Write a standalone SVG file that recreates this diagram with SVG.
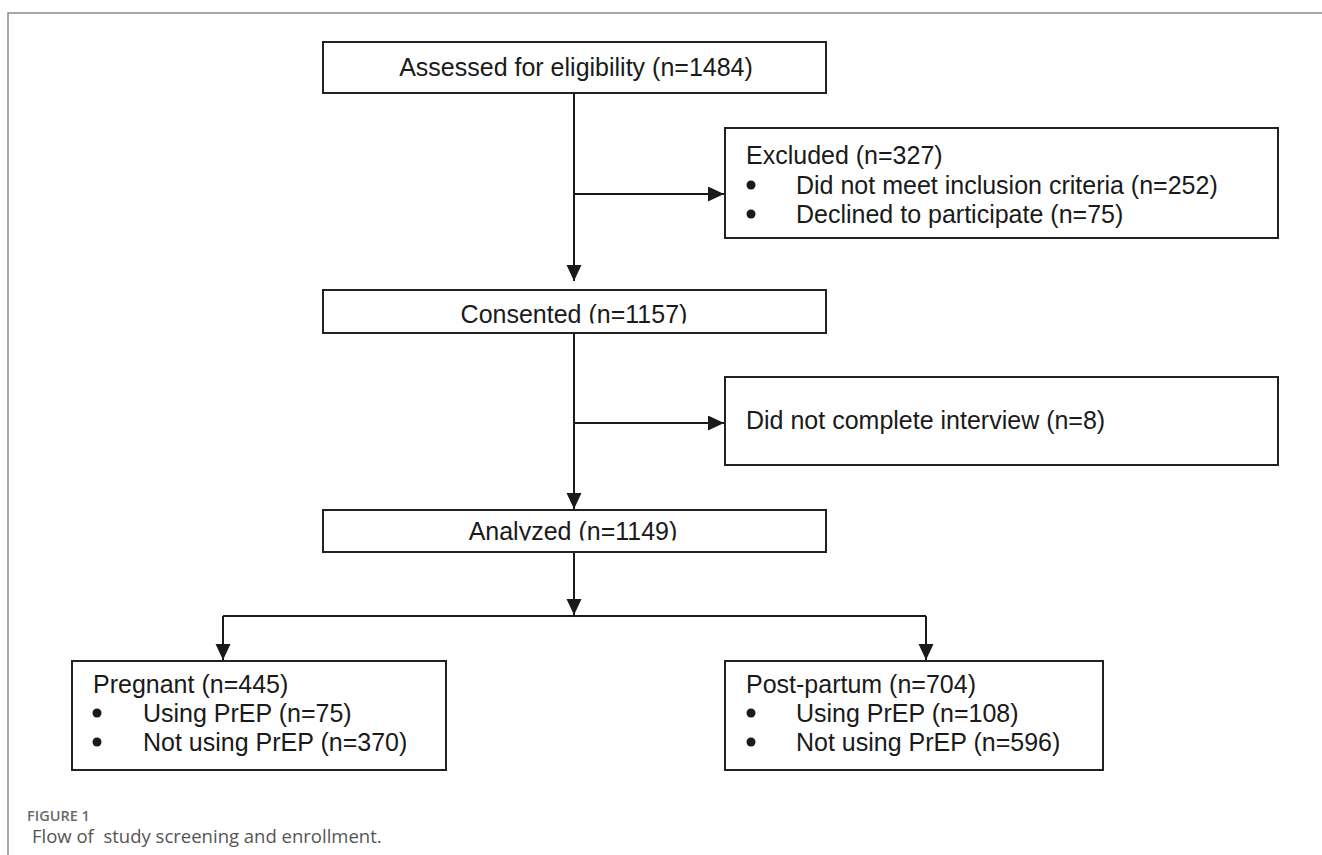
<svg xmlns="http://www.w3.org/2000/svg" width="1322" height="855" viewBox="0 0 1322 855">
  <defs>
    <style>
      .box { fill: #ffffff; stroke: #222222; stroke-width: 2; }
      .t { font-family: "Liberation Sans", Arial, sans-serif; font-size: 25px; fill: #1a1a1a; }
      .c { text-anchor: middle; }
      .bul { fill: #1a1a1a; }
      .con { fill: none; stroke: #1a1a1a; stroke-width: 2; }
      .frame { fill: none; stroke: #8a8a8a; stroke-width: 1.5; }
      .caph { font-family: "Open Sans", "Liberation Sans", sans-serif; font-size: 14.5px; font-weight: 600; fill: #6b6b6b; }
      .cap { font-family: "Open Sans", "Liberation Sans", sans-serif; font-size: 18.5px; fill: #555555; }
    </style>
    <marker id="arr" markerUnits="userSpaceOnUse" markerWidth="16" markerHeight="16" refX="16" refY="7.5" orient="auto">
      <path d="M0,0 L16,7.5 L0,15 Z" fill="#1a1a1a"/>
    </marker>
    <clipPath id="clipCons"><rect x="323" y="290" width="503" height="33.5"/></clipPath>
    <clipPath id="clipAna"><rect x="323" y="510" width="503" height="30.5"/></clipPath>
  </defs>

  <g id="frame">
    <path class="frame" d="M8,855 V13 H1322"/>
  </g>

  <g id="connectors">
    <path class="con" d="M574,93 V281" marker-end="url(#arr)"/>
    <path class="con" d="M574,194 H724" marker-end="url(#arr)"/>
    <path class="con" d="M574,333 V509" marker-end="url(#arr)"/>
    <path class="con" d="M574,423 H724" marker-end="url(#arr)"/>
    <path class="con" d="M574,552 V615" marker-end="url(#arr)"/>
    <path class="con" d="M223,616 H926"/>
    <path class="con" d="M223,616 V660" marker-end="url(#arr)"/>
    <path class="con" d="M926,616 V660" marker-end="url(#arr)"/>
  </g>

  <g id="assessed">
    <rect class="box" x="323" y="42" width="503" height="51"/>
    <text class="t c" x="576" y="76">Assessed for eligibility (n=1484)</text>
  </g>

  <g id="excluded">
    <rect class="box" x="725" y="128" width="553" height="110"/>
    <text class="t" x="746" y="164">Excluded (n=327)</text>
    <circle class="bul" cx="751" cy="185" r="4.5"/>
    <text class="t" x="796" y="194">Did not meet inclusion criteria (n=252)</text>
    <circle class="bul" cx="751" cy="214" r="4.5"/>
    <text class="t" x="796" y="223">Declined to participate (n=75)</text>
  </g>

  <g id="consented">
    <rect class="box" x="323" y="290" width="503" height="43"/>
    <text class="t c" x="574" y="323" clip-path="url(#clipCons)">Consented (n=1157)</text>
  </g>

  <g id="incomplete">
    <rect class="box" x="725" y="377" width="553" height="88"/>
    <text class="t" x="746" y="429">Did not complete interview (n=8)</text>
  </g>

  <g id="analyzed">
    <rect class="box" x="323" y="510" width="503" height="42"/>
    <text class="t c" x="573" y="540" clip-path="url(#clipAna)">Analyzed (n=1149)</text>
  </g>

  <g id="pregnant">
    <rect class="box" x="72" y="661" width="374" height="109"/>
    <text class="t" x="93" y="693">Pregnant (n=445)</text>
    <circle class="bul" cx="97" cy="713" r="4.5"/>
    <text class="t" x="143" y="722">Using PrEP (n=75)</text>
    <circle class="bul" cx="97" cy="742" r="4.5"/>
    <text class="t" x="143" y="751">Not using PrEP (n=370)</text>
  </g>

  <g id="postpartum">
    <rect class="box" x="725" y="661" width="378" height="109"/>
    <text class="t" x="746" y="693">Post-partum (n=704)</text>
    <circle class="bul" cx="751" cy="713" r="4.5"/>
    <text class="t" x="796" y="722">Using PrEP (n=108)</text>
    <circle class="bul" cx="751" cy="742" r="4.5"/>
    <text class="t" x="796" y="751">Not using PrEP (n=596)</text>
  </g>

  <g id="caption">
    <text class="caph" x="27" y="821">FIGURE 1</text>
    <text class="cap" x="32" y="843" xml:space="preserve">Flow of  study screening and enrollment.</text>
  </g>
</svg>
